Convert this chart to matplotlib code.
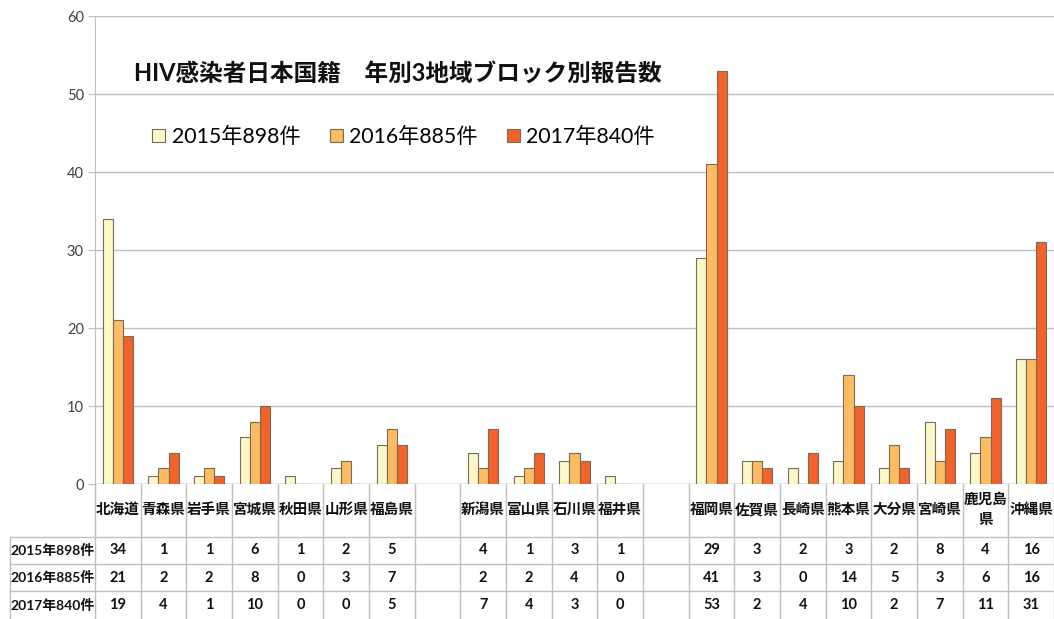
import numpy as np
import matplotlib
matplotlib.use("Agg")
import matplotlib.pyplot as plt
from matplotlib.lines import Line2D

plt.rcParams['font.family'] = ['Lato', 'Noto Sans CJK JP', 'DejaVu Sans']

categories = ['北海道', '青森県', '岩手県', '宮城県', '秋田県', '山形県', '福島県', '',
              '新潟県', '富山県', '石川県', '福井県', '',
              '福岡県', '佐賀県', '長崎県', '熊本県', '大分県', '宮崎県', '鹿児島\n県', '沖縄県']
series_names = ['2015年898件', '2016年885件', '2017年840件']
nan = np.nan
v2015 = [34, 1, 1, 6, 1, 2, 5, nan, 4, 1, 3, 1, nan, 29, 3, 2, 3, 2, 8, 4, 16]
v2016 = [21, 2, 2, 8, 0, 3, 7, nan, 2, 2, 4, 0, nan, 41, 3, 0, 14, 5, 3, 6, 16]
v2017 = [19, 4, 1, 10, 0, 0, 5, nan, 7, 4, 3, 0, nan, 53, 2, 4, 10, 2, 7, 11, 31]
series = [v2015, v2016, v2017]
colors = ['#FBF7C9', '#FDBB62', '#F0632B']
title = 'HIV感染者日本国籍\u3000年別3地域ブロック別報告数'
yticks = [0, 10, 20, 30, 40, 50, 60]

W, H = 1054, 619
fig = plt.figure(figsize=(W / 100, H / 100), dpi=100)
ax_left, ax_right, ax_bottom, ax_top = 95, 1054, 484, 16
ax = fig.add_axes([ax_left / W, 1 - ax_bottom / H, (ax_right - ax_left) / W, (ax_bottom - ax_top) / H])

n = len(categories)
x = np.arange(n)
bw = 0.22
for i, (vals, c) in enumerate(zip(series, colors)):
    ax.bar(x + (i - 1) * bw, vals, width=bw, color=c, edgecolor='#7a6a5c', linewidth=0.8,
           label=series_names[i], zorder=3)

ax.set_xlim(-0.5, n - 0.5)
ax.set_ylim(0, 60)
ax.set_yticks(yticks)
ax.set_xticks([])
ax.yaxis.grid(True, color='#BFBFBF', linewidth=1.0, zorder=0)
ax.set_axisbelow(True)
for s in ['top', 'right', 'bottom']:
    ax.spines[s].set_visible(False)
ax.spines['left'].set_color('#BFBFBF')
ax.tick_params(axis='y', length=5, color='#BFBFBF', labelsize=10.5, labelcolor='#404040', pad=3)
ax.tick_params(axis='x', length=0)
ax.axhline(0, color='#BFBFBF', linewidth=1.0, zorder=2)

ax.text(0.041, 0.877, title, transform=ax.transAxes, fontsize=17, fontweight='bold',
        ha='left', va='center', color='#111111')

leg = ax.legend(loc='center left', bbox_to_anchor=(0.04, 0.742), ncol=3, frameon=False,
                fontsize=15.3, handlelength=0.6, handleheight=0.6, handletextpad=0.3,
                columnspacing=1.4)

# ---- data table below the chart ----
axh = ax_bottom - ax_top
def ay(ypix):
    return (ax_bottom - ypix) / axh

trans = ax.get_xaxis_transform()
gc = '#BFBFBF'
row_tops = [537, 564, 591, 619]
for b in np.arange(n + 1) - 0.5:
    ax.add_line(Line2D([b, b], [ay(484), ay(619)], transform=trans, color=gc, lw=1, clip_on=False))
xl = -0.5 - (ax_left - 10) / ((ax_right - ax_left) / n)
for yp in row_tops[:3]:
    ax.add_line(Line2D([xl, n - 0.5], [ay(yp), ay(yp)], transform=trans, color=gc, lw=1, clip_on=False))
ax.add_line(Line2D([xl, xl], [ay(537), ay(619)], transform=trans, color=gc, lw=1, clip_on=False))

for xi, cat in zip(x, categories):
    if cat:
        ax.text(xi, ay(510), cat, transform=trans, ha='center', va='center', fontsize=10.5,
                fontweight='bold', color='#111111', linespacing=1.5, clip_on=False)
for r, (name, vals) in enumerate(zip(series_names, series)):
    yc = ay((row_tops[r] + row_tops[r + 1]) / 2)
    ax.text(xl + 0.02, yc, name, transform=trans, ha='left', va='center', fontsize=10,
            fontweight='bold', color='#111111', clip_on=False)
    for xi, v in zip(x, vals):
        if not np.isnan(v):
            ax.text(xi, yc, f'{int(v)}', transform=trans, ha='center', va='center', fontsize=10.5,
                    fontweight='bold', color='#111111', clip_on=False)

fig.savefig('out.png', dpi=100)
